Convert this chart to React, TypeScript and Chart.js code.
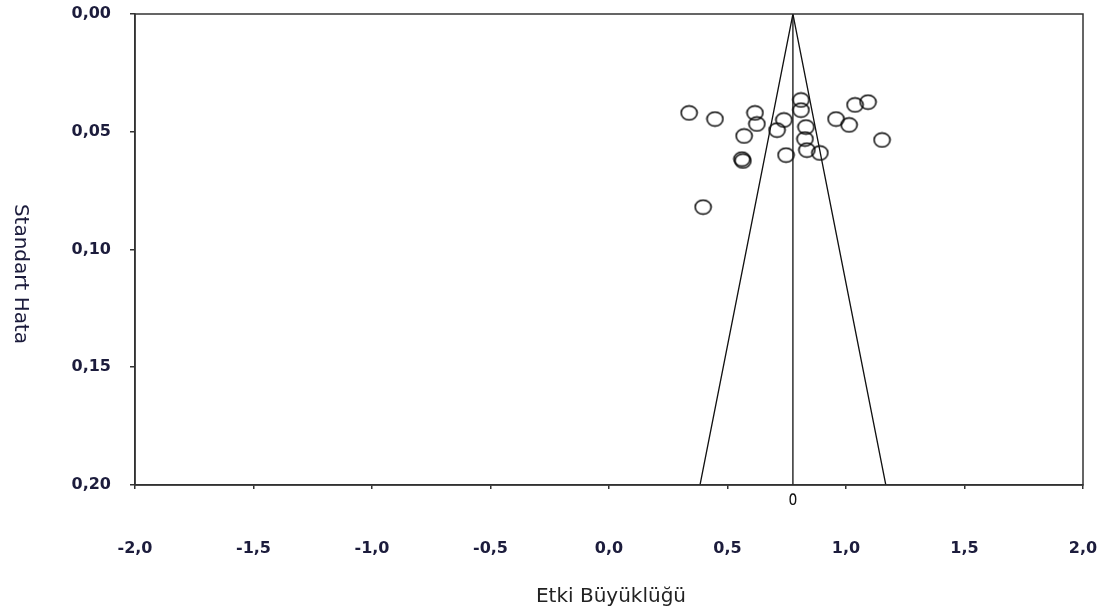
import { useEffect, useRef } from "react";
import { Chart, registerables } from "chart.js";

Chart.register(...registerables);

// Study effect sizes (x) and standard errors (y)
const studyEffects = [
  0.338, 0.447, 0.616, 0.624, 0.57, 0.561, 0.565, 0.397, 0.738, 0.709, 0.81,
  0.81, 0.831, 0.827, 0.835, 0.747, 0.89, 0.958, 1.013, 1.038, 1.093, 1.152,
];
const studyErrors = [
  0.042, 0.0446, 0.042, 0.0467, 0.0518, 0.0616, 0.0624, 0.082, 0.045, 0.0493,
  0.0365, 0.0408, 0.048, 0.0531, 0.0578, 0.0599, 0.059, 0.0446, 0.0471, 0.0386,
  0.0374, 0.0535,
];

// Summary effect and funnel
const summaryEffect = 0.776;
const summaryMarkerSE = 0.206;
const funnelX = [0.384, 0.776, 1.168];
const funnelY = [0.2, 0, 0.2];
const centerLineY = [0, 0.2];

const xTitle = "Etki Büyüklüğü";
const yTitle = "Standart Hata";

const TICK_FONT = "'DejaVu Sans', Verdana, sans-serif";
const TITLE_FONT = "'DejaVu Sans', Verdana, sans-serif";

function makeEllipse(w: number, h: number, rx: number, ry: number, lw: number) {
  const c = document.createElement("canvas");
  c.width = w;
  c.height = h;
  const ctx = c.getContext("2d")!;
  ctx.strokeStyle = "#000";
  ctx.lineWidth = lw;
  ctx.beginPath();
  ctx.ellipse(w / 2, h / 2, rx, ry, 0, 0, Math.PI * 2);
  ctx.stroke();
  return c;
}

function zeroPad(scale: any) {
  scale.paddingTop = 0;
  scale.paddingBottom = 0;
  scale.paddingLeft = 0;
  scale.paddingRight = 0;
}

export default function App() {
  const ref = useRef<HTMLCanvasElement | null>(null);

  useEffect(() => {
    if (!ref.current) return;
    const studyImg = makeEllipse(19, 17, 8, 7, 1.5);

    const framePlugin = {
      id: "frameAndTitles",
      afterDraw(chart: any) {
        const { ctx, chartArea, scales } = chart;
        ctx.save();
        ctx.strokeStyle = "#333";
        ctx.lineWidth = 1.5;
        ctx.strokeRect(
          chartArea.left,
          chartArea.top,
          chartArea.right - chartArea.left,
          chartArea.bottom - chartArea.top
        );
        // summary effect marker below the axis
        const sx = scales.x.getPixelForValue(summaryEffect);
        const sy = scales.y.getPixelForValue(summaryMarkerSE);
        ctx.strokeStyle = "#111";
        ctx.lineWidth = 1.4;
        ctx.beginPath();
        ctx.ellipse(sx, sy, 2.8, 5.2, 0, 0, Math.PI * 2);
        ctx.stroke();

        ctx.fillStyle = "#222";
        ctx.font = `20px ${TITLE_FONT}`;
        ctx.textAlign = "center";
        ctx.textBaseline = "middle";
        ctx.fillText(xTitle, 611, 597);
        ctx.fillStyle = "#1c1c3c";
        ctx.translate(20, 274);
        ctx.rotate(Math.PI / 2);
        ctx.fillText(yTitle, 0, 0);
        ctx.restore();
      },
    };

    const chart = new Chart(ref.current, {
      type: "scatter",
      data: {
        datasets: [
          {
            label: "funnel",
            data: funnelX.map((x, i) => ({ x, y: funnelY[i] })),
            showLine: true,
            borderColor: "#111",
            borderWidth: 1.3,
            pointRadius: 0,
            fill: false,
          },
          {
            label: "center",
            data: centerLineY.map((y) => ({ x: summaryEffect, y })),
            showLine: true,
            borderColor: "#111",
            borderWidth: 1.3,
            pointRadius: 0,
            fill: false,
          },
          {
            label: "studies",
            data: studyEffects.map((x, i) => ({ x, y: studyErrors[i] })),
            pointStyle: studyImg as any,
            pointRadius: 8,
            borderColor: "#000",
            backgroundColor: "rgba(0,0,0,0)",
          },
        ],
      },
      options: {
        animation: false,
        responsive: true,
        maintainAspectRatio: false,
        layout: { padding: { top: 14, right: 29, left: 0, bottom: 0 } },
        plugins: {
          legend: { display: false },
          tooltip: { enabled: false },
          title: { display: false },
        },
        scales: {
          x: {
            type: "linear",
            min: -2,
            max: 2,
            afterFit(scale: any) {
              scale.height = 130;
              zeroPad(scale);
            },
            ticks: {
              stepSize: 0.5,
              padding: 50,
              color: "#1c1c3c",
              font: { family: TICK_FONT, size: 16, weight: "bold" },
              callback: (v: any) => Number(v).toFixed(1).replace(".", ","),
            },
            grid: {
              drawOnChartArea: false,
              drawTicks: true,
              tickLength: 4,
              color: "#333",
              lineWidth: 1.5,
            },
            border: { display: true, color: "#333", width: 1.5 },
          },
          y: {
            type: "linear",
            reverse: true,
            min: 0,
            max: 0.2,
            afterFit(scale: any) {
              scale.width = 135;
              zeroPad(scale);
            },
            ticks: {
              stepSize: 0.05,
              padding: 19,
              color: "#1c1c3c",
              font: { family: TICK_FONT, size: 16, weight: "bold" },
              callback: (v: any) => Number(v).toFixed(2).replace(".", ","),
            },
            grid: {
              drawOnChartArea: false,
              drawTicks: true,
              tickLength: 5,
              color: "#333",
              lineWidth: 1.5,
            },
            border: { display: true, color: "#333", width: 1.5 },
          },
        },
      },
      plugins: [framePlugin],
    });
    return () => chart.destroy();
  }, []);

  return (
    <div
      style={{
        position: "absolute",
        left: 0,
        top: 0,
        width: 1112,
        height: 615,
        background: "#fff",
      }}
    >
      <canvas ref={ref} />
    </div>
  );
}
